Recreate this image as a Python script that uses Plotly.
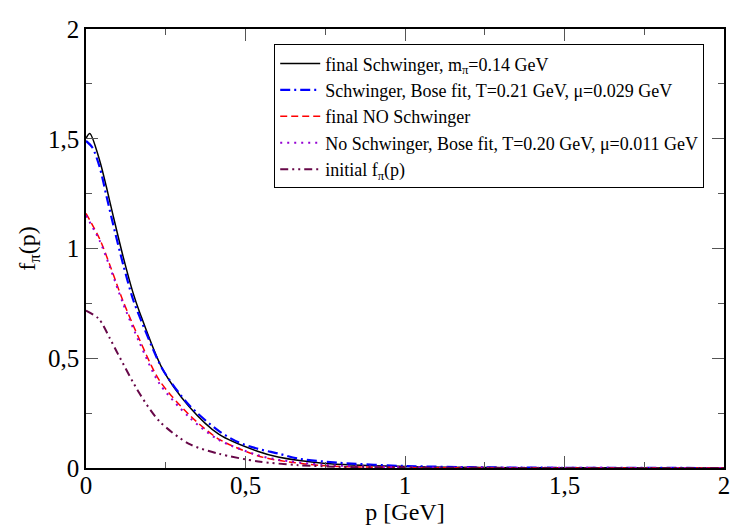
import plotly.graph_objects as go

# final Schwinger
p_black = [0, 0.012, 0.043, 0.064, 0.085, 0.116, 0.147, 0.168, 0.24, 0.323, 0.416, 0.54, 0.602, 0.75, 1.0, 1.25, 1.5, 2.0]
f_black = [1.502, 1.524, 1.40, 1.28, 1.15, 0.965, 0.80, 0.71, 0.45, 0.28, 0.154, 0.075, 0.05, 0.021, 0.007, 0.002, 0.001, 0.0]

# Schwinger Bose fit
p_blue = [0, 0.02, 0.043, 0.064, 0.085, 0.116, 0.147, 0.168, 0.24, 0.323, 0.416, 0.478, 0.54, 0.602, 0.665, 0.789, 1.0, 1.25, 1.5, 2.0]
f_blue = [1.49, 1.46, 1.37, 1.24, 1.11, 0.93, 0.77, 0.69, 0.45, 0.287, 0.169, 0.117, 0.087, 0.066, 0.043, 0.024, 0.009, 0.003, 0.001, 0.0]

# final NO Schwinger
p_red = [0, 0.043, 0.075, 0.116, 0.168, 0.23, 0.323, 0.416, 0.54, 0.602, 0.75, 1.0, 1.5, 2.0]
f_red = [1.16, 1.043, 0.924, 0.761, 0.584, 0.399, 0.243, 0.132, 0.055, 0.035, 0.01, 0.002, 0.0, 0.0]

# No Schwinger Bose fit
p_violet = [0, 0.043, 0.075, 0.116, 0.168, 0.23, 0.323, 0.416, 0.54, 0.602, 0.75, 1.0, 1.5, 2.0]
f_violet = [1.15, 1.035, 0.915, 0.75, 0.57, 0.385, 0.232, 0.128, 0.058, 0.038, 0.014, 0.004, 0.001, 0.0]

# initial
p_init = [0, 0.04, 0.075, 0.1, 0.168, 0.23, 0.323, 0.416, 0.54, 0.665, 0.8, 1.0, 1.5, 2.0]
f_init = [0.717, 0.68, 0.59, 0.52, 0.339, 0.213, 0.11, 0.065, 0.03, 0.013, 0.005, 0.002, 0.0, 0.0]

tick_vals = [0, 0.5, 1, 1.5, 2]
tick_text = ["0", "0,5", "1", "1,5", "2"]

names = [
    "final Schwinger, m<sub>π</sub>=0.14 GeV",
    "Schwinger, Bose fit, T=0.21 GeV, μ=0.029 GeV",
    "final NO Schwinger",
    "No Schwinger, Bose fit, T=0.20 GeV, μ=0.011 GeV",
    "initial f<sub>π</sub>(p)",
]

SERIF = "Liberation Serif, Times New Roman, Times, serif"

fig = go.Figure()
fig.add_trace(go.Scatter(x=p_black, y=f_black, mode="lines", name=names[0],
                         line=dict(color="black", width=1.5, shape="spline", smoothing=0.8)))
fig.add_trace(go.Scatter(x=p_blue, y=f_blue, mode="lines", name=names[1],
                         line=dict(color="#0000ff", width=2.2, dash="10px,4px,2px,4px", shape="spline", smoothing=0.8)))
fig.add_trace(go.Scatter(x=p_red, y=f_red, mode="lines", name=names[2],
                         line=dict(color="#ff0000", width=1.5, dash="7px,4px", shape="spline", smoothing=0.8)))
fig.add_trace(go.Scatter(x=p_violet, y=f_violet, mode="lines", name=names[3],
                         line=dict(color="rgb(148,0,211)", width=2, dash="2px,5px", shape="spline", smoothing=0.8)))
fig.add_trace(go.Scatter(x=p_init, y=f_init, mode="lines", name=names[4],
                         line=dict(color="rgb(103,7,72)", width=2, dash="8px,4px,2px,4px,2px,4px", shape="spline", smoothing=0.8)))

axis_common = dict(
    tickvals=tick_vals, ticktext=tick_text, range=[0, 2],
    showgrid=False, zeroline=False,
    showline=True, linecolor="black", linewidth=1.5, mirror="ticks",
    ticks="inside", ticklen=12, tickwidth=1, tickcolor="#555555",
    minor=dict(ticks="inside", ticklen=6, dtick=0.25, tickcolor="#555555", tickwidth=1),
    tickfont=dict(family=SERIF, size=25, color="black"),
    ticklabeloverflow="allow",
)

fig.update_layout(
    width=730, height=521,
    margin=dict(l=78, r=8, t=10, b=61),
    paper_bgcolor="white", plot_bgcolor="white",
    font=dict(family=SERIF, color="black"),
    xaxis=dict(**axis_common, ticklabelstandoff=-6,
               title=dict(text="p [GeV]", font=dict(family=SERIF, size=24), standoff=0)),
    yaxis=dict(**axis_common,
               title=dict(text="f<sub>π</sub>(p)", font=dict(family=SERIF, size=24), standoff=6)),
    legend=dict(x=0.969, y=0.965, xanchor="right", yanchor="top",
                bordercolor="black", borderwidth=1, bgcolor="white",
                font=dict(family=SERIF, size=18),
                tracegroupgap=0, itemwidth=40),
    showlegend=True,
)

fig.write_html("out.html")
